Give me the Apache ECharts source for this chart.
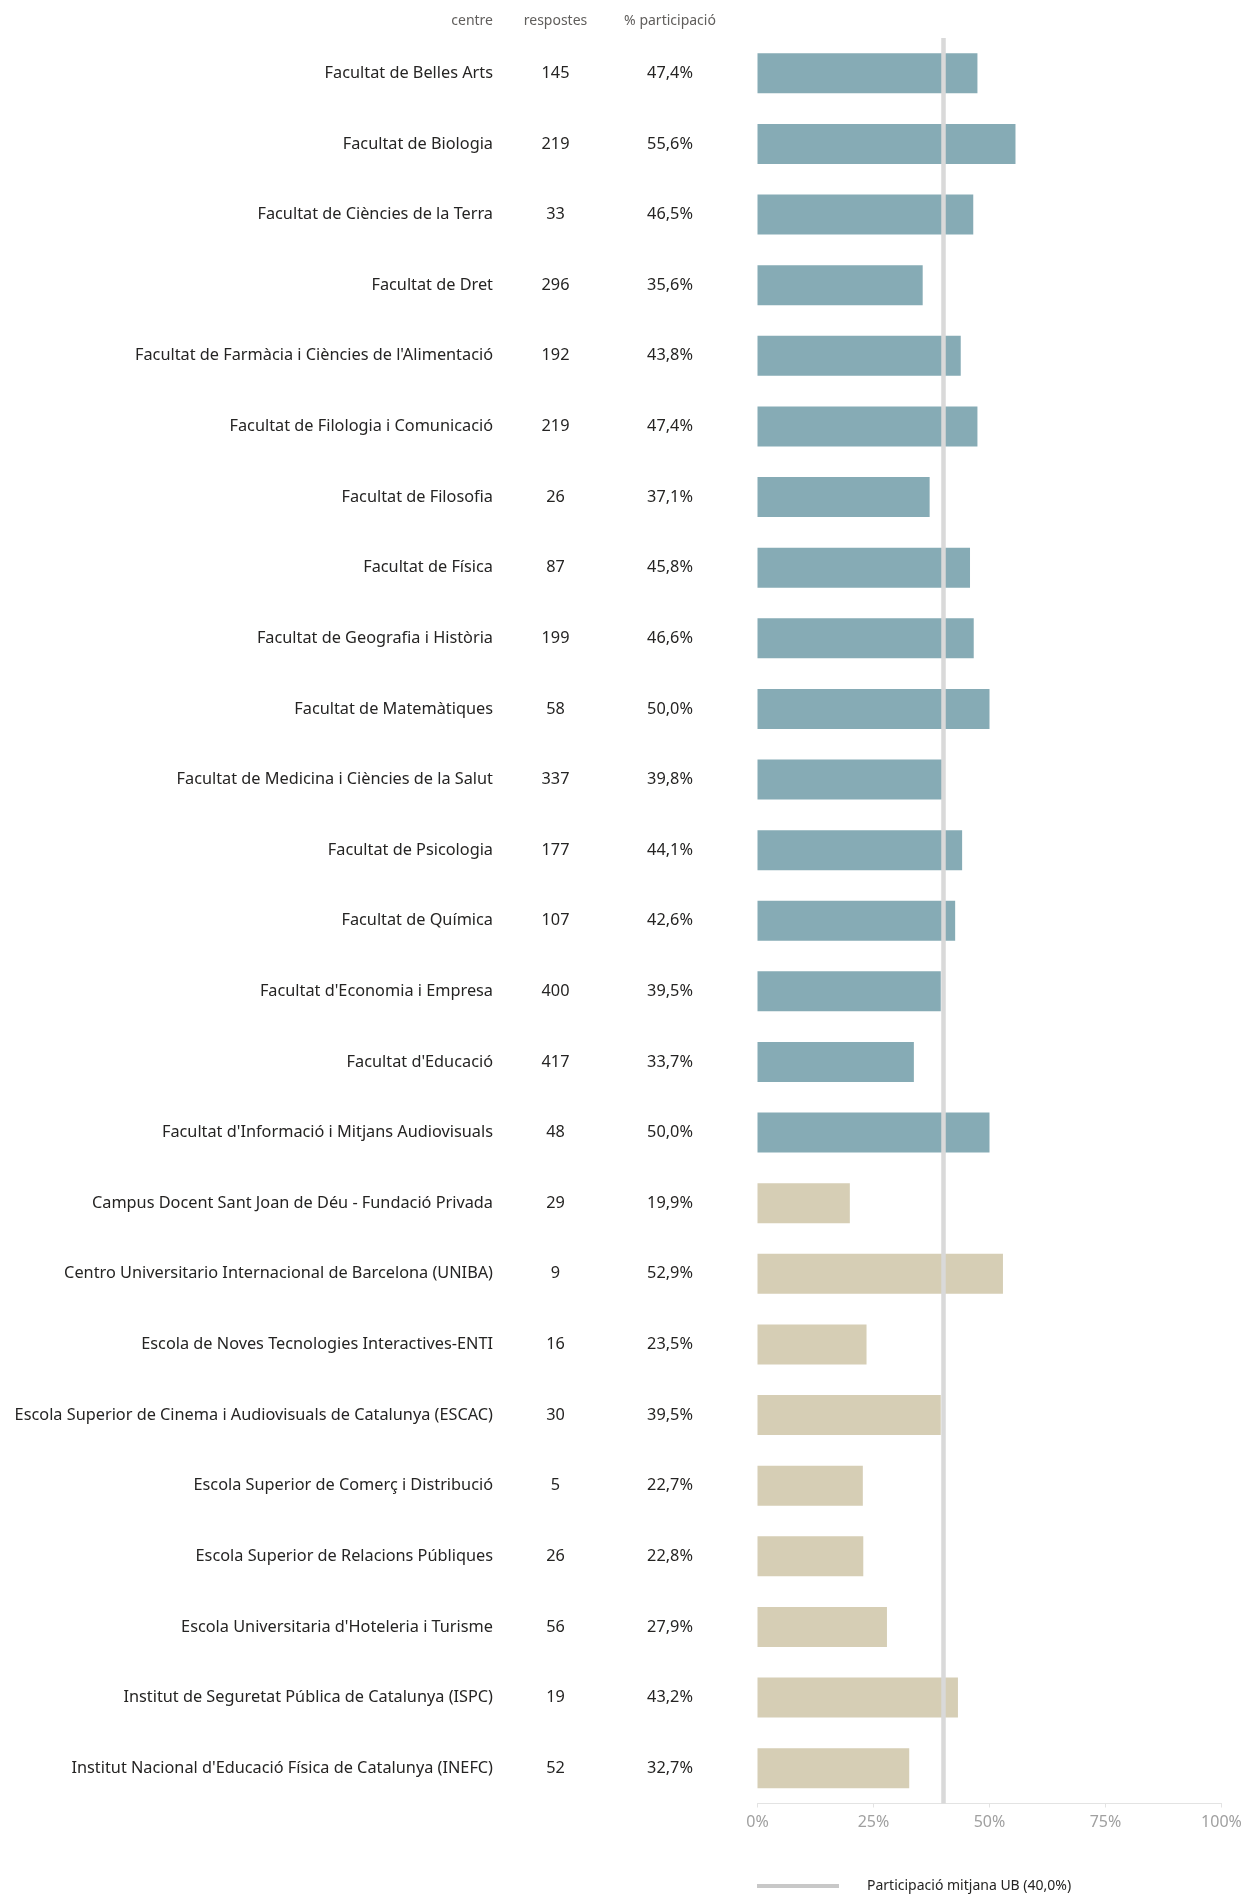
<!DOCTYPE html>
<html>
<head>
<meta charset="utf-8">
<script src="https://cdn.jsdelivr.net/npm/echarts@6/dist/echarts.min.js"></script>
<style>
html,body{margin:0;padding:0;background:#fff;}
#chart{width:1255px;height:1894px;}
</style>
</head>
<body>
<div id="chart"></div>
<script>
const categories = [
  "Facultat de Belles Arts",
  "Facultat de Biologia",
  "Facultat de Ciències de la Terra",
  "Facultat de Dret",
  "Facultat de Farmàcia i Ciències de l'Alimentació",
  "Facultat de Filologia i Comunicació",
  "Facultat de Filosofia",
  "Facultat de Física",
  "Facultat de Geografia i Història",
  "Facultat de Matemàtiques",
  "Facultat de Medicina i Ciències de la Salut",
  "Facultat de Psicologia",
  "Facultat de Química",
  "Facultat d'Economia i Empresa",
  "Facultat d'Educació",
  "Facultat d'Informació i Mitjans Audiovisuals",
  "Campus Docent Sant Joan de Déu - Fundació Privada",
  "Centro Universitario Internacional de Barcelona (UNIBA)",
  "Escola de Noves Tecnologies Interactives-ENTI",
  "Escola Superior de Cinema i Audiovisuals de Catalunya (ESCAC)",
  "Escola Superior de Comerç i Distribució",
  "Escola Superior de Relacions Públiques",
  "Escola Universitaria d'Hoteleria i Turisme",
  "Institut de Seguretat Pública de Catalunya (ISPC)",
  "Institut Nacional d'Educació Física de Catalunya (INEFC)"
];
const respostes = [145,219,33,296,192,219,26,87,199,58,337,177,107,400,417,48,29,9,16,30,5,26,56,19,52];
const participacio = [47.4,55.6,46.5,35.6,43.8,47.4,37.1,45.8,46.6,50.0,39.8,44.1,42.6,39.5,33.7,50.0,19.9,52.9,23.5,39.5,22.7,22.8,27.9,43.2,32.7];
const tipus = ["F","F","F","F","F","F","F","F","F","F","F","F","F","F","F","F","A","A","A","A","A","A","A","A","A"];
const mitjanaUB = 40.0;
const xTicks = [0,25,50,75,100];
const headers = ["centre","respostes","% participació"];
const legendName = "Participació mitjana UB (40,0%)";

const colorF = '#86abb5';
const colorA = '#d6ceb5';
const fmtPct = v => v.toFixed(1).replace('.', ',') + '%';
const FONT = 'Noto Sans';
const FS = 16.3;

const chart = echarts.init(document.getElementById('chart'), null, {renderer:'canvas'});

const barData = participacio.map((v,i) => ({value:v, itemStyle:{color: tipus[i]==='F'?colorF:colorA}}));

const catAxisBase = {
  gridIndex:0, type:'category', data:categories, inverse:true, position:'left',
  axisLine:{show:false}, axisTick:{show:false}, splitLine:{show:false}
};
const GL = 757.5;
const lblBase = {interval:0, color:'#252423', fontSize:FS, fontFamily:FONT, padding:[0,0,3,0]};

chart.setOption({
  animation:false,
  backgroundColor:'#fff',
  textStyle:{fontFamily:FONT},
  grid:[{left:GL, width:464, top:38, height:1765.5}],
  xAxis:[
    {gridIndex:0, type:'value', min:xTicks[0], max:xTicks[xTicks.length-1], interval:25,
     axisLine:{show:true, lineStyle:{color:'#e3e3e3', width:1}},
     axisTick:{show:true, length:4, lineStyle:{color:'#e3e3e3'}},
     splitLine:{show:false},
     axisLabel:{formatter:'{value}%', color:'#a0a0a0', fontSize:16, margin:11, fontFamily:FONT}}
  ],
  yAxis:[
    Object.assign({}, catAxisBase, {axisLabel:Object.assign({}, lblBase, {margin:GL-493, align:'right'})}),
    Object.assign({}, catAxisBase, {axisLabel:Object.assign({}, lblBase, {margin:GL-555.5, align:'center',
      formatter:(v,i)=>String(respostes[i])})}),
    Object.assign({}, catAxisBase, {axisLabel:Object.assign({}, lblBase, {margin:GL-670, align:'center',
      formatter:(v,i)=>fmtPct(participacio[i])})})
  ],
  legend:{
    left:757, top:1879, padding:0, icon:'rect', itemWidth:82, itemHeight:4,
    textStyle:{fontSize:14, color:'#252423', padding:[0,0,0,23], fontFamily:FONT},
    data:[{name:legendName, itemStyle:{color:'#c8c8c8'}}],
    selectedMode:false
  },
  graphic:[
    {type:'text', x:493, y:21, style:{text:headers[0], align:'right', verticalAlign:'middle', fill:'#605e5c', font:'14px "Noto Sans"'}},
    {type:'text', x:555.5, y:21, style:{text:headers[1], align:'center', verticalAlign:'middle', fill:'#605e5c', font:'14px "Noto Sans"'}},
    {type:'text', x:670, y:21, style:{text:headers[2], align:'center', verticalAlign:'middle', fill:'#605e5c', font:'14px "Noto Sans"'}}
  ],
  series:[
    {type:'bar', xAxisIndex:0, yAxisIndex:0, barWidth:40, data:barData, silent:true,
     markLine:{silent:true, symbol:'none', label:{show:false},
       lineStyle:{color:'#d9d9d9', width:4.5, type:'solid'},
       data:[{xAxis:mitjanaUB}]}},
    {type:'line', name:legendName, xAxisIndex:0, yAxisIndex:0, data:[], itemStyle:{color:'#c8c8c8'}, lineStyle:{color:'#c8c8c8'}}
  ]
});
</script>
</body>
</html>
